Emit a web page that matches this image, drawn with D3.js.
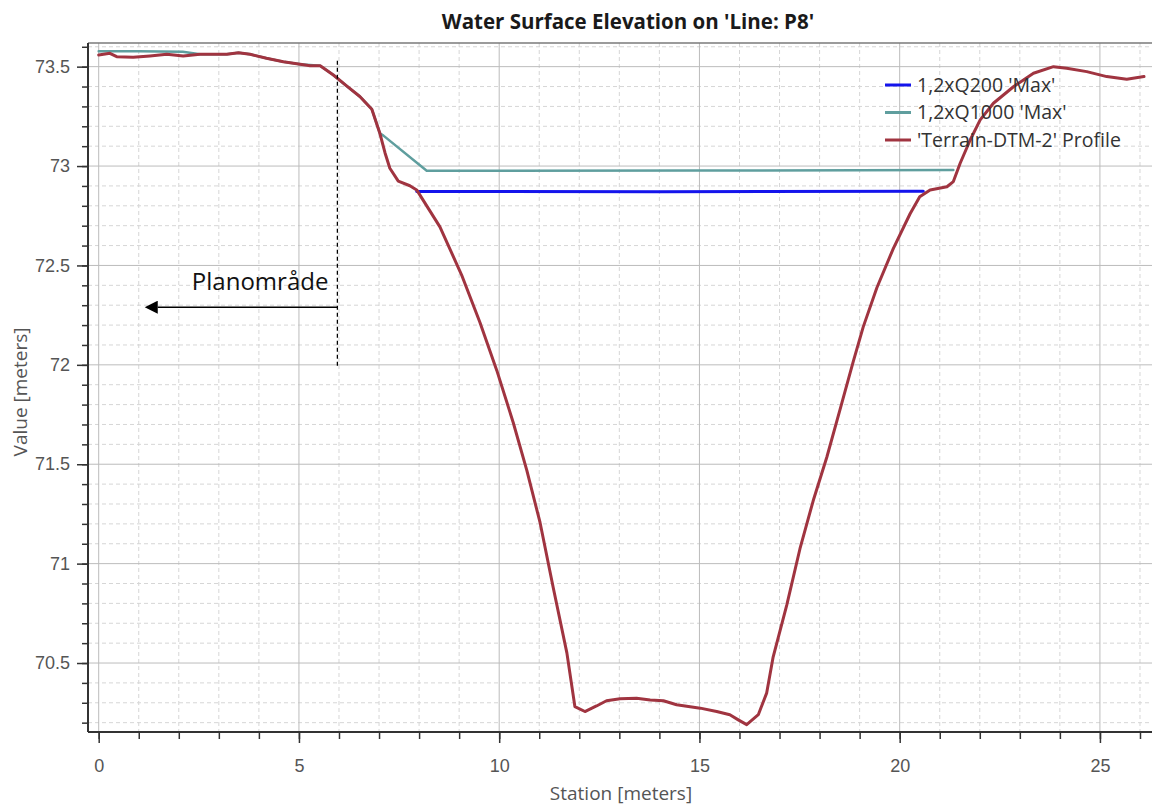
<!DOCTYPE html>
<html>
<head>
<meta charset="utf-8">
<script src="https://cdn.jsdelivr.net/npm/d3@7"></script>
<style>
    html, body { margin: 0; padding: 0; background: white; }
    svg { display: block; font-family: "Open Sans", "Noto Sans", sans-serif; }
</style>
</head>
<body>
<main></main>
<script>

// Terrain profile along the line
var terrainStation = [0, 0.28, 0.45, 0.86, 1.28, 1.7, 2.11, 2.53, 3.2, 3.49, 3.78, 4.19, 4.61, 5.03, 5.28, 5.53,
                      5.86, 6.19, 6.52, 6.82, 7.02, 7.15, 7.27, 7.48, 7.77, 7.94, 8.52, 9.06, 9.52, 9.94, 10.35,
                      10.69, 11.02, 11.35, 11.69, 11.89, 12.14, 12.43, 12.68, 13.02, 13.43, 13.77, 14.1, 14.43,
                      15.02, 15.43, 15.76, 15.97, 16.18, 16.47, 16.68, 16.84, 17.18, 17.51, 17.84, 18.18, 18.51,
                      18.84, 19.09, 19.43, 19.84, 20.26, 20.5, 20.76, 21.18, 21.34, 21.51, 21.76, 22.01, 22.34,
                      22.84, 23.34, 23.84, 24.17, 24.67, 25.17, 25.67, 26.1];
var terrainValue = [73.559, 73.567, 73.55, 73.547, 73.554, 73.562, 73.554, 73.562, 73.562, 73.57, 73.562, 73.542,
                    73.525, 73.512, 73.505, 73.505, 73.458, 73.403, 73.35, 73.286, 73.165, 73.066, 72.989, 72.924,
                    72.901, 72.88, 72.694, 72.453, 72.213, 71.972, 71.71, 71.469, 71.207, 70.879, 70.551, 70.281,
                    70.256, 70.284, 70.31, 70.32, 70.323, 70.314, 70.31, 70.29, 70.273, 70.256, 70.24, 70.214,
                    70.19, 70.24, 70.35, 70.53, 70.791, 71.075, 71.316, 71.535, 71.775, 72.016, 72.191, 72.388,
                    72.585, 72.76, 72.846, 72.88, 72.896, 72.922, 73.014, 73.131, 73.232, 73.316, 73.399, 73.467,
                    73.5, 73.492, 73.475, 73.45, 73.437, 73.45];

// Max water surface, 1,2 x Q1000
var q1000Station = [0, 1, 2.1, 2.53, 3.2, 3.49, 3.78, 4.19, 4.61, 5.03, 5.53, 5.86, 6.19, 6.52, 6.82, 7.02,
                    7.11, 8.19, 15, 21.34];
var q1000Value = [73.578, 73.577, 73.575, 73.562, 73.562, 73.57, 73.562, 73.542, 73.525, 73.512, 73.505, 73.458,
                  73.403, 73.35, 73.286, 73.165, 73.153, 72.976, 72.977, 72.98];

// Max water surface, 1,2 x Q200
var q200Station = [7.94, 14, 20.59];
var q200Value = [72.872, 72.871, 72.873];

var seriesNames = ["1,2xQ200 'Max'", "1,2xQ1000 'Max'", "'Terrain-DTM-2' Profile"];
var seriesColors = ["#1414ec", "#5f9e9e", "#a03440"];

var xMajorTicks = [0, 5, 10, 15, 20, 25];
var yMajorTicks = [70.5, 71, 71.5, 72, 72.5, 73, 73.5];

// Plan area marker: boundary station, its vertical extent, arrow level and tip
var planStation = 5.96;
var planLineRange = [71.99, 73.53];
var planArrowValue = 72.29;
var planArrowTip = 1.1;
var planLabel = "Planområde";


var WIDTH = 1152;
var HEIGHT = 809;
var margin = {top: 43, right: 0, bottom: 77, left: 88};

var x = d3.scaleLinear().domain([-0.267, 26.3]).range([margin.left, WIDTH - margin.right]);
var y = d3.scaleLinear().domain([70.153, 73.619]).range([HEIGHT - margin.bottom, margin.top]);

function zip (xs, ys) {
    return xs.map(function (d, i) { return [d, ys[i]]; });
}

var svg = d3.select("main").append("svg")
                           .attr("width", WIDTH)
                           .attr("height", HEIGHT);

svg.append("defs").append("clipPath")
   .attr("id", "plot-clip")
   .append("rect")
   .attr("x", margin.left)
   .attr("y", margin.top)
   .attr("width", WIDTH - margin.left - margin.right)
   .attr("height", HEIGHT - margin.top - margin.bottom);

// Grid: dashed minor lines every 1 m / 0.1 m, solid major lines
var grid = svg.append("g").attr("clip-path", "url(#plot-clip)");

grid.selectAll(".vminor")
    .data(d3.range(0, 27, 1).filter(function (d) { return d % 5 != 0; }))
    .enter().append("line")
    .attr("x1", function (d) { return x(d); })
    .attr("x2", function (d) { return x(d); })
    .attr("y1", margin.top)
    .attr("y2", HEIGHT - margin.bottom)
    .style("stroke", "#d6d6d6")
    .style("stroke-dasharray", "4,3");

grid.selectAll(".hminor")
    .data(d3.range(702, 737, 1).map(function (d) { return d / 10; }).filter(function (d) { return Math.round(d * 10) % 5 != 0; }))
    .enter().append("line")
    .attr("x1", margin.left)
    .attr("x2", WIDTH - margin.right)
    .attr("y1", function (d) { return y(d); })
    .attr("y2", function (d) { return y(d); })
    .style("stroke", "#d6d6d6")
    .style("stroke-dasharray", "4,3");

grid.selectAll(".vmajor")
    .data(xMajorTicks)
    .enter().append("line")
    .attr("x1", function (d) { return x(d); })
    .attr("x2", function (d) { return x(d); })
    .attr("y1", margin.top)
    .attr("y2", HEIGHT - margin.bottom)
    .style("stroke", "#bcbcbc");

grid.selectAll(".hmajor")
    .data(yMajorTicks)
    .enter().append("line")
    .attr("x1", margin.left)
    .attr("x2", WIDTH - margin.right)
    .attr("y1", function (d) { return y(d); })
    .attr("y2", function (d) { return y(d); })
    .style("stroke", "#bcbcbc");

// top frame
svg.append("line")
   .attr("x1", margin.left)
   .attr("x2", WIDTH)
   .attr("y1", margin.top)
   .attr("y2", margin.top)
   .style("stroke", "#7a7a7a")
   .style("stroke-width", 1.5);

// Series
var line = d3.line()
             .x(function (d) { return x(d[0]); })
             .y(function (d) { return y(d[1]); });

var series = [zip(q200Station, q200Value), zip(q1000Station, q1000Value), zip(terrainStation, terrainValue)];
var widths = [3, 2.5, 3];

var plot = svg.append("g").attr("clip-path", "url(#plot-clip)");

// water lines first, terrain on top
[1, 0, 2].forEach(function (k) {
    plot.append("path")
        .datum(series[k])
        .attr("d", line)
        .style("fill", "none")
        .style("stroke", seriesColors[k])
        .style("stroke-width", widths[k])
        .style("stroke-linejoin", "round")
        .style("stroke-linecap", "round");
});

// Axes
var axisColor = "#333333";
var labelColor = "#555555";

var xMinor = svg.append("g")
                .attr("transform", "translate(0," + (HEIGHT - margin.bottom) + ")")
                .call(d3.axisBottom(x).tickValues(d3.range(0, 27, 1)).tickSize(7).tickFormat(""));
var xMajor = svg.append("g")
                .attr("transform", "translate(0," + (HEIGHT - margin.bottom) + ")")
                .call(d3.axisBottom(x).tickValues(xMajorTicks).tickSize(11).tickPadding(16).tickFormat(d3.format("d")));

var yMinor = svg.append("g")
                .attr("transform", "translate(" + margin.left + ",0)")
                .call(d3.axisLeft(y).tickValues(d3.range(702, 737, 1).map(function (d) { return d / 10; })).tickSize(6).tickFormat(""));
var yMajor = svg.append("g")
                .attr("transform", "translate(" + margin.left + ",0)")
                .call(d3.axisLeft(y).tickValues(yMajorTicks).tickSize(11).tickPadding(7).tickFormat(function (d) { return String(d); }));

[xMinor, xMajor, yMinor, yMajor].forEach(function (g) {
    g.selectAll(".tick line").style("stroke", axisColor).style("stroke-width", 1.5);
    g.selectAll("path.domain").style("stroke", axisColor).style("stroke-width", 2);
    g.selectAll("text").style("fill", labelColor).style("font-size", "18px");
});
xMinor.select("path.domain").attr("d", "M" + margin.left + ",0H" + WIDTH);
xMajor.select("path.domain").attr("d", "M" + margin.left + ",0H" + WIDTH);
yMinor.select("path.domain").attr("d", "M0," + margin.top + "V" + (HEIGHT - margin.bottom));
yMajor.select("path.domain").attr("d", "M0," + margin.top + "V" + (HEIGHT - margin.bottom));

// Titles
svg.append("text")
   .text("Water Surface Elevation on 'Line: P8'")
   .attr("x", 628)
   .attr("y", 29)
   .style("text-anchor", "middle")
   .style("font-size", "20.5px")
   .style("font-weight", "bold")
   .style("fill", "#1a1a1a");

svg.append("text")
   .text("Station [meters]")
   .attr("x", 621)
   .attr("y", 800)
   .style("text-anchor", "middle")
   .style("font-size", "19px")
   .style("fill", labelColor);

svg.append("text")
   .text("Value [meters]")
   .attr("transform", "translate(27,392) rotate(-90)")
   .style("text-anchor", "middle")
   .style("font-size", "19px")
   .style("fill", labelColor);

// Legend
var legend = svg.append("g").attr("transform", "translate(885,85)");
seriesNames.forEach(function (name, i) {
    var row = legend.append("g").attr("transform", "translate(0," + (i * 27.5) + ")");
    row.append("line")
       .attr("x1", 0).attr("x2", 26)
       .attr("y1", 0).attr("y2", 0)
       .style("stroke", seriesColors[i])
       .style("stroke-width", 3);
    row.append("text")
       .text(name)
       .attr("x", 32)
       .attr("y", 0)
       .attr("dy", "0.35em")
       .style("font-size", "19.5px")
       .style("fill", "#333333");
});

// Plan area marker
svg.append("defs").append("marker")
   .attr("id", "arrow-head")
   .attr("viewBox", "0 0 10 10")
   .attr("refX", 0)
   .attr("refY", 5)
   .attr("markerUnits", "userSpaceOnUse")
   .attr("markerWidth", 15)
   .attr("markerHeight", 13)
   .attr("orient", "auto-start-reverse")
   .append("path")
   .attr("d", "M0,0L10,5L0,10Z")
   .style("fill", "black");

svg.append("line")
   .attr("x1", x(planStation)).attr("x2", x(planStation))
   .attr("y1", y(planLineRange[1])).attr("y2", y(planLineRange[0]))
   .style("stroke", "black")
   .style("stroke-width", 1.3)
   .style("stroke-dasharray", "4,3");

svg.append("line")
   .attr("x1", x(planStation)).attr("x2", x(planArrowTip) + 15)
   .attr("y1", y(planArrowValue)).attr("y2", y(planArrowValue))
   .attr("marker-end", "url(#arrow-head)")
   .style("stroke", "black")
   .style("stroke-width", 1.5);

svg.append("text")
   .text(planLabel)
   .attr("x", x(planStation) - 9)
   .attr("y", y(planArrowValue) - 17)
   .style("text-anchor", "end")
   .style("font-size", "24px")
   .style("fill", "#111");

</script>
</body>
</html>
